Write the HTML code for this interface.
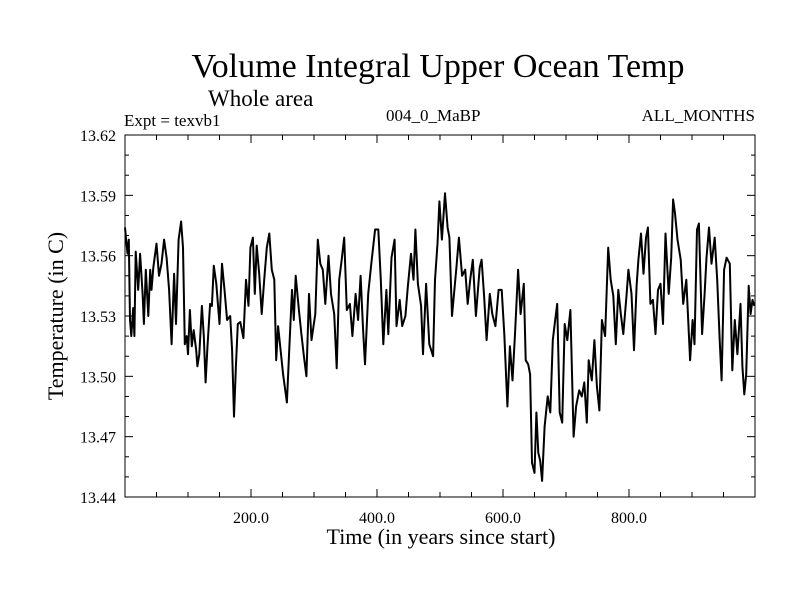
<!DOCTYPE html>
<html><head><meta charset="utf-8"><style>
body{margin:0;background:#fff;}
svg text{font-family:"Liberation Serif",serif;fill:#000;}
</style></head><body>
<svg width="800" height="600" viewBox="0 0 800 600">
<rect width="800" height="600" fill="#fff"/>
<text x="438" y="77" font-size="34" text-anchor="middle">Volume Integral Upper Ocean Temp</text>
<text x="208" y="106" font-size="23">Whole area</text>
<text x="124" y="126" font-size="17">Expt = texvb1</text>
<text x="386" y="121" font-size="17">004_0_MaBP</text>
<text x="755" y="121" font-size="17" text-anchor="end">ALL_MONTHS</text>
<g id="axes"></g>
<path id="series" fill="none" stroke="#000" stroke-width="2" stroke-linejoin="round"/>
<rect x="125" y="135" width="630" height="362" fill="none" stroke="#000" stroke-width="1"/>
<text x="441" y="544" font-size="22" text-anchor="middle">Time (in years since start)</text>
<text transform="translate(63,316) rotate(-90)" font-size="22" text-anchor="middle">Temperature (in C)</text>
</svg>
<script>
const years = [0,4,6,8,10,13,15,17,21,24,28,30,33,37,40,42,45,50,54,58,62,66,70,74,78,81,85,89,92,95,98,100,103,106,109,113,115,118,122,125,128,131,135,138,141,145,150,154,158,162,167,170,173,176,179,183,188,192,196,199,203,206,209,213,217,221,225,229,233,237,240,243,247,251,257,261,265,268,271,276,280,284,288,292,296,302,306,310,314,318,323,327,332,336,340,344,348,352,357,361,366,370,374,378,381,386,391,397,402,406,410,415,418,423,428,431,436,440,445,449,454,458,461,465,470,473,478,483,489,492,496,499,503,508,512,515,519,526,530,535,540,544,548,552,557,563,566,570,574,579,583,588,593,598,602,607,611,615,619,624,628,633,636,640,643,646,650,653,656,659,662,666,671,675,679,682,686,690,694,698,702,707,712,716,721,725,729,733,736,741,745,749,753,757,762,767,771,775,779,783,787,791,796,799,804,808,812,815,819,823,827,830,834,838,842,846,850,854,858,863,867,870,873,877,882,886,891,897,901,904,908,911,916,920,923,927,931,936,940,944,947,951,955,960,964,968,972,977,980,983,986,990,993,996,999];
const temps = [13.574,13.561,13.568,13.528,13.52,13.534,13.52,13.562,13.543,13.561,13.541,13.526,13.553,13.53,13.553,13.543,13.554,13.566,13.55,13.556,13.568,13.559,13.543,13.516,13.551,13.526,13.568,13.577,13.564,13.516,13.52,13.511,13.533,13.515,13.523,13.513,13.505,13.511,13.535,13.52,13.497,13.515,13.536,13.535,13.555,13.546,13.526,13.556,13.543,13.528,13.53,13.513,13.48,13.505,13.526,13.527,13.519,13.548,13.535,13.564,13.569,13.541,13.565,13.551,13.531,13.548,13.564,13.571,13.553,13.548,13.508,13.525,13.513,13.501,13.487,13.515,13.543,13.528,13.55,13.533,13.521,13.51,13.5,13.541,13.518,13.531,13.568,13.556,13.553,13.536,13.56,13.541,13.531,13.504,13.548,13.558,13.569,13.533,13.536,13.52,13.541,13.528,13.55,13.523,13.506,13.541,13.556,13.573,13.573,13.548,13.516,13.543,13.521,13.559,13.568,13.525,13.538,13.525,13.53,13.545,13.561,13.548,13.573,13.546,13.535,13.511,13.546,13.516,13.51,13.548,13.566,13.587,13.568,13.591,13.574,13.569,13.53,13.554,13.569,13.55,13.553,13.536,13.548,13.558,13.53,13.554,13.558,13.54,13.518,13.541,13.531,13.525,13.543,13.543,13.521,13.485,13.515,13.498,13.521,13.553,13.531,13.546,13.508,13.506,13.501,13.457,13.452,13.482,13.462,13.458,13.448,13.475,13.49,13.482,13.518,13.526,13.536,13.482,13.477,13.526,13.518,13.533,13.47,13.485,13.493,13.49,13.497,13.477,13.508,13.498,13.518,13.495,13.483,13.528,13.52,13.564,13.548,13.54,13.516,13.543,13.531,13.521,13.54,13.553,13.541,13.513,13.545,13.558,13.571,13.551,13.569,13.574,13.536,13.538,13.521,13.543,13.546,13.526,13.571,13.541,13.559,13.588,13.581,13.568,13.558,13.536,13.548,13.508,13.528,13.516,13.573,13.576,13.521,13.541,13.559,13.574,13.556,13.569,13.548,13.518,13.498,13.553,13.559,13.556,13.503,13.528,13.511,13.536,13.505,13.491,13.501,13.545,13.531,13.538,13.535];
const yTickValues = [13.44,13.47,13.50,13.53,13.56,13.59,13.62];
const yTickLabels = ["13.44","13.47","13.50","13.53","13.56","13.59","13.62"];
const xTickValues = [200,400,600,800];
const xTickLabels = ["200.0","400.0","600.0","800.0"];

const X0=125,X1=755,Y0=135,Y1=497,XMIN=0,XMAX=1000,YMIN=13.44,YMAX=13.62;
function xs(v){return X0+(v-XMIN)/(XMAX-XMIN)*(X1-X0);}
function ys(v){return Y1-(v-YMIN)/(YMAX-YMIN)*(Y1-Y0);}
const NS='http://www.w3.org/2000/svg';
const axes=document.getElementById('axes');
function line(x1,y1,x2,y2,name){
  const l=document.createElementNS(NS,'line');
  l.setAttribute('x1',x1);l.setAttribute('y1',y1);l.setAttribute('x2',x2);l.setAttribute('y2',y2);
  l.setAttribute('stroke','#000');l.setAttribute('stroke-width','1');
  
  
  axes.appendChild(l);
}
function text(x,y,s,anchor,name){
  const t=document.createElementNS(NS,'text');
  t.setAttribute('x',x);t.setAttribute('y',y);t.setAttribute('font-size','16');t.setAttribute('text-anchor',anchor);
  t.textContent=s;
  
  
  axes.appendChild(t);
}
// minor y ticks every 0.01
for(let i=0;i<=18;i++){
  const v=YMIN+i*0.01, y=ys(v), len=(i%3===0)?8:4;
  line(X0,y,X0+len,y,'y-tick');
  line(X1,y,X1-len,y,'y-tick-right');
}
yTickValues.forEach((v,i)=>text(116,ys(v)+6,yTickLabels[i],'end','y-tick-label'));
// x ticks every 50
for(let v=50;v<1000;v+=50){
  const x=xs(v), len=(v%200===0)?8:5;
  line(x,Y1,x,Y1-len,'x-tick');
  line(x,Y0,x,Y0+len,'x-tick-top');
}
xTickValues.forEach((v,i)=>text(xs(v),523,xTickLabels[i],'middle','x-tick-label'));
let d='';
years.forEach((yr,i)=>{d+=(i?'L':'M')+xs(yr).toFixed(1)+' '+ys(temps[i]).toFixed(1);});
document.getElementById('series').setAttribute('d',d);
</script>
</body></html>
